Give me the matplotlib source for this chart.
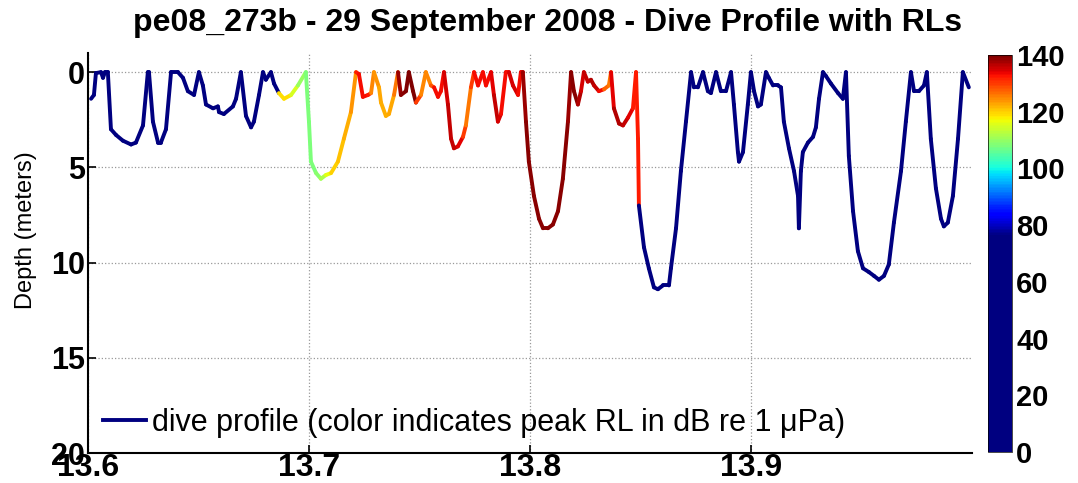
import numpy as np
import matplotlib
matplotlib.use("Agg")
import matplotlib.pyplot as plt
from matplotlib.collections import LineCollection
from matplotlib.colors import ListedColormap, Normalize
from matplotlib.lines import Line2D

plt.rcParams['font.family'] = ['Liberation Sans', 'DejaVu Sans']

# time (decimal hours), depth (m) and peak received level (dB re 1 uPa)
time = [
    13.6014, 13.6027, 13.6036, 13.6059, 13.6068, 13.6077, 13.6090, 13.6104, 13.6127, 13.6158,
    13.6195, 13.6217, 13.6249, 13.6271, 13.6276, 13.6294, 13.6317, 13.6330, 13.6353, 13.6376,
    13.6407, 13.6430, 13.6452, 13.6480, 13.6502, 13.6520, 13.6534, 13.6566, 13.6588, 13.6593,
    13.6615, 13.6656, 13.6670, 13.6692, 13.6715, 13.6738, 13.6751, 13.6774, 13.6792, 13.6805,
    13.6828, 13.6842, 13.6864,
    13.6887, 13.6919, 13.6950, 13.6986, 13.7000, 13.7009, 13.7032, 13.7054, 13.7077, 13.7100,
    13.7131, 13.7158, 13.7190, 13.7213, 13.7226, 13.7244, 13.7267, 13.7281, 13.7294, 13.7317,
    13.7326, 13.7348, 13.7362, 13.7385, 13.7403, 13.7416, 13.7439, 13.7452, 13.7471, 13.7484,
    13.7507, 13.7529, 13.7552, 13.7566, 13.7584, 13.7597, 13.7611, 13.7629, 13.7643, 13.7656,
    13.7674, 13.7697, 13.7710, 13.7733, 13.7747, 13.7765, 13.7787, 13.7801, 13.7824, 13.7837,
    13.7855, 13.7869, 13.7891, 13.7905, 13.7923, 13.7946, 13.7959, 13.7968, 13.7982, 13.7995,
    13.8018, 13.8041, 13.8059, 13.8081, 13.8104, 13.8127, 13.8149, 13.8172, 13.8186, 13.8199,
    13.8217, 13.8231, 13.8244, 13.8262, 13.8276, 13.8290, 13.8312, 13.8335, 13.8357, 13.8367,
    13.8380, 13.8403, 13.8421, 13.8443, 13.8466, 13.8480, 13.8489, 13.8493,
    13.8516, 13.8538, 13.8561, 13.8579, 13.8602, 13.8629, 13.8638, 13.8661, 13.8683, 13.8706,
    13.8729, 13.8742, 13.8760, 13.8783, 13.8805, 13.8819, 13.8842, 13.8864, 13.8887, 13.8910,
    13.8923, 13.8941, 13.8946, 13.8964, 13.8986, 13.9000, 13.9014, 13.9032, 13.9045, 13.9068,
    13.9081, 13.9100, 13.9122, 13.9136, 13.9149, 13.9172, 13.9195, 13.9213, 13.9217, 13.9226,
    13.9235, 13.9258, 13.9281, 13.9294, 13.9308, 13.9326, 13.9339, 13.9362, 13.9394, 13.9416,
    13.9430, 13.9443, 13.9462, 13.9484, 13.9507, 13.9534, 13.9557, 13.9579, 13.9602, 13.9624,
    13.9647, 13.9679, 13.9701, 13.9724, 13.9738, 13.9760, 13.9783, 13.9796, 13.9814, 13.9837,
    13.9860, 13.9873, 13.9891, 13.9914, 13.9937, 13.9959, 13.9986,
]

depth = [
    1.4, 1.2, 0.05, 0.0, 0.3, 0.0, 0.0, 3.0, 3.3, 3.6,
    3.8, 3.7, 2.8, 0.0, 0.0, 2.6, 3.7, 3.7, 3.0, 0.0,
    0.0, 0.3, 1.0, 1.2, 0.0, 0.7, 1.7, 1.9, 1.8, 2.1,
    2.2, 1.8, 1.4, 0.0, 2.3, 2.9, 2.6, 1.2, 0.0, 0.4,
    0.0, 0.6, 1.1,
    1.4, 1.2, 0.7, 0.0, 2.6, 4.7, 5.3, 5.6, 5.4, 5.3,
    4.7, 3.5, 2.1, 0.0, 0.1, 1.3, 1.2, 1.1, 0.0, 0.8,
    1.6, 2.3, 2.2, 1.2, 0.0, 1.2, 1.0, 0.0, 1.0, 1.6,
    1.2, 0.0, 0.7, 0.8, 1.3, 1.0, 0.0, 1.7, 3.5, 4.0,
    3.9, 3.4, 2.8, 0.8, 0.0, 0.7, 0.0, 0.7, 0.0, 1.2,
    2.6, 2.2, 0.0, 0.0, 0.7, 1.2, 0.0, 0.0, 2.6, 4.7,
    6.5, 7.7, 8.2, 8.2, 8.0, 7.3, 5.6, 2.6, 0.0, 1.0,
    1.7, 1.0, 0.0, 0.5, 0.4, 0.7, 1.0, 0.9, 0.7, 0.0,
    1.9, 2.7, 2.8, 2.4, 1.9, 0.0, 3.5, 7.0,
    9.2, 10.3, 11.3, 11.4, 11.2, 11.2, 10.3, 8.2, 5.2, 2.6,
    0.0, 0.8, 0.8, 0.0, 1.0, 1.1, 0.0, 1.0, 1.0, 0.0,
    1.7, 4.2, 4.7, 4.2, 1.7, 0.0, 1.0, 1.8, 1.7, 0.0,
    0.3, 0.7, 0.7, 0.8, 2.6, 4.0, 5.2, 6.5, 8.2, 5.2,
    4.2, 3.7, 3.4, 2.9, 1.4, 0.0, 0.2, 0.6, 1.1, 1.4,
    0.0, 4.4, 7.3, 9.4, 10.3, 10.5, 10.7, 10.9, 10.7, 10.1,
    7.9, 5.2, 2.6, 0.0, 1.0, 1.0, 0.7, 0.0, 3.5, 6.1,
    7.7, 8.1, 7.9, 6.5, 3.5, 0.0, 0.8,
]

peak_rl = [
    55, 55, 56, 56, 57, 57, 57, 56, 55, 55,
    54, 54, 55, 56, 56, 55, 55, 55, 56, 57,
    57, 57, 58, 58, 58, 58, 57, 57, 57, 57,
    58, 58, 59, 60, 60, 60, 61, 61, 62, 62,
    63, 63, 64,
    119, 119, 115, 110, 108, 108, 108, 109, 112, 116,
    120, 121, 122, 124, 132, 133, 133, 132, 125, 124,
    123, 122, 122, 123, 126, 138, 139, 142, 142, 141,
    130, 125, 125, 128, 133, 133, 133, 135, 136, 136,
    136, 134, 130, 126, 130, 133, 133, 133, 133, 134,
    136, 135, 133, 133, 135, 135, 133, 134, 138, 139,
    139, 139, 139, 139, 139, 139, 139, 139, 138, 139,
    139, 137, 135, 136, 136, 137, 136, 133, 127, 126,
    134, 137, 137, 136, 134, 132, 132, 132,
    60, 60, 59, 59, 58, 58, 58, 57, 57, 57,
    56, 56, 56, 56, 55, 55, 55, 55, 55, 55,
    54, 54, 54, 54, 54, 54, 54, 54, 53, 53,
    53, 53, 53, 53, 53, 52, 52, 52, 52, 52,
    52, 52, 52, 51, 51, 51, 51, 51, 51, 51,
    50, 50, 50, 50, 50, 50, 50, 50, 50, 50,
    50, 50, 50, 49, 49, 49, 49, 49, 49, 49,
    49, 49, 49, 49, 48, 48, 48,
]

cbar_ticks = [0, 20, 40, 60, 80, 100, 120, 140]
x_ticks = [13.6, 13.7, 13.8, 13.9]
y_ticks = [0, 5, 10, 15, 20]

# jet-like map, flat navy at the low end
jet = plt.get_cmap('jet')
n_flat = 139
cols = np.vstack([np.tile(jet(0.0), (n_flat, 1)), jet(np.linspace(0, 1, 256 - n_flat))])
cmap = ListedColormap(cols)
norm = Normalize(0, 140)

t = np.array(time)
d = np.array(depth)
rl = np.array(peak_rl, dtype=float)

fig = plt.figure(figsize=(10.78, 4.83), dpi=100)
ax = fig.add_axes([0.0816, 0.0621, 0.820, 0.828])

pts = np.column_stack([t, d]).reshape(-1, 1, 2)
segs = np.concatenate([pts[:-1], pts[1:]], axis=1)
lc = LineCollection(segs, cmap=cmap, norm=norm, linewidth=2.8, capstyle='round', joinstyle='round')
lc.set_array(rl[1:])
ax.add_collection(lc)

ax.set_xlim(13.6, 14.0)
ax.set_ylim(20, -1.0)
ax.set_xticks(x_ticks)
ax.set_yticks(y_ticks)
ax.set_xticklabels(['%.1f' % v for v in x_ticks], fontsize=23, fontweight='bold')
ax.set_yticklabels([str(v) for v in y_ticks], fontsize=22, fontweight='bold')
ax.tick_params(direction='in', length=6, width=1.2, pad=2)
ax.tick_params(axis='x', pad=0)
ax.grid(True, linestyle=':', color='#999999', linewidth=0.9)
for s in ['top', 'right']:
    ax.spines[s].set_visible(False)
for s in ['left', 'bottom']:
    ax.spines[s].set_linewidth(1.5)

proxy = Line2D([], [], color=jet(0.0), linewidth=2.8)
ax.legend([proxy], ['dive profile (color indicates peak RL in dB re 1 \u03bcPa)'],
          loc='lower left', frameon=False, fontsize=22, handlelength=1.4,
          handletextpad=0.2, borderaxespad=0.1, bbox_to_anchor=(0.0, 0.0))

fig.text(0.508, 0.952, 'pe08_273b - 29 September 2008 - Dive Profile with RLs',
         ha='center', va='center', fontsize=23, fontweight='bold')
fig.text(0.024, 0.524, 'Depth (meters)', rotation=90, ha='center', va='center', fontsize=17)

cax = fig.add_axes([0.9165, 0.064, 0.0223, 0.822])
sm = plt.cm.ScalarMappable(cmap=cmap, norm=norm)
cb = fig.colorbar(sm, cax=cax, ticks=cbar_ticks)
cb.ax.tick_params(length=0, pad=3)
cb.ax.set_yticklabels([str(v) for v in cbar_ticks], fontsize=21, fontweight='bold')
cb.outline.set_linewidth(0.5)

fig.savefig('out.png', dpi=100)
